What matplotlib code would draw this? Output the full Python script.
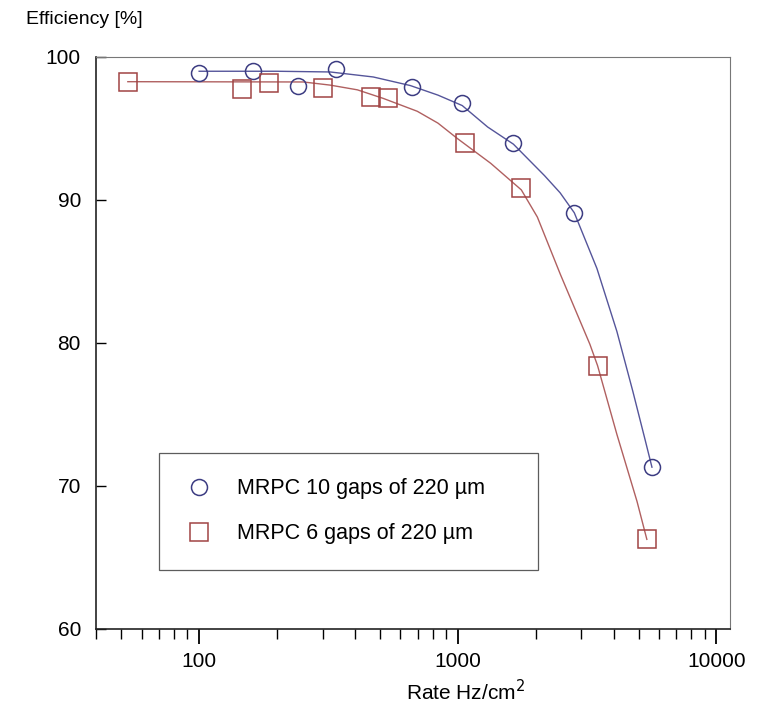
import matplotlib
matplotlib.use("Agg")
import matplotlib.pyplot as plt
from matplotlib.ticker import LogLocator, NullFormatter, FixedLocator

plt.rcParams['font.family'] = ['Liberation Sans', 'DejaVu Sans']

# measured points
rate_10 = [100, 162, 240, 337, 667, 1040, 1640, 2820, 5630]
eff_10 = [98.9, 99.0, 98.0, 99.15, 97.9, 96.8, 94.0, 89.1, 71.3]
rate_6 = [53, 146, 187, 300, 463, 538, 1070, 1760, 3470, 5380]
eff_6 = [98.25, 97.75, 98.2, 97.8, 97.2, 97.1, 94.0, 90.8, 78.4, 66.25]

# fitted curves
fit_rate_10 = [100, 200, 321, 471, 655, 838, 1040, 1304, 1640, 2163, 2485, 2820,
               3450, 4120, 4750, 5300, 5630]
fit_eff_10 = [99.0, 99.0, 98.95, 98.6, 98.0, 97.33, 96.6, 95.1, 93.9, 91.7, 90.5, 89.1,
              85.2, 80.8, 76.6, 73.2, 71.3]
fit_rate_6 = [53, 253, 321, 409, 515, 697, 838, 995, 1340, 1760, 2030, 2490,
              3240, 3470, 4120, 4930, 5380]
fit_eff_6 = [98.27, 98.25, 98.03, 97.7, 97.1, 96.2, 95.37, 94.3, 92.56, 90.7, 88.8, 84.8,
             79.9, 78.4, 73.6, 68.9, 66.25]

labels = ["MRPC 10 gaps of 220 \u00b5m", "MRPC 6 gaps of 220 \u00b5m"]

blue = "#3c3c82"
red = "#a04444"

fig = plt.figure(figsize=(7.76, 7.12), dpi=100)
ax = fig.add_axes([0.124, 0.117, 0.817, 0.803])

ax.plot(fit_rate_10, fit_eff_10, color="#55559a", lw=1.0)
ax.plot(fit_rate_6, fit_eff_6, color="#b06060", lw=1.0)
ax.plot(rate_10, eff_10, 'o', ms=11.5, mfc='none', mec=blue, mew=1.1, label=labels[0])
ax.plot(rate_6, eff_6, 's', ms=12.5, mfc='none', mec=red, mew=1.1, label=labels[1])

ax.set_xscale('log')
ax.set_xlim(40, 11300)
ax.set_ylim(60, 100)
ax.xaxis.set_major_locator(FixedLocator([100, 1000, 10000]))
ax.xaxis.set_minor_locator(LogLocator(base=10, subs=range(2, 10)))
ax.xaxis.set_minor_formatter(NullFormatter())
ax.set_xticklabels(["100", "1000", "10000"])
ax.set_yticks([60, 70, 80, 90, 100])

ax.tick_params(axis='x', which='major', direction='out', length=11, width=1.3, labelsize=15, pad=6)
ax.tick_params(axis='x', which='minor', direction='out', length=7, width=1.0)
ax.tick_params(axis='y', which='major', direction='in', length=7, width=1.0, labelsize=15, pad=11)

for side in ['top', 'right']:
    ax.spines[side].set_color('#777777')
for side in ['left', 'bottom']:
    ax.spines[side].set_color('#222222')
    ax.spines[side].set_linewidth(1.2)

leg = ax.legend(loc='upper left', bbox_to_anchor=(0.099, 0.101, 0.598, 0.207), mode='expand',
                frameon=True, fancybox=False, fontsize=15.5, handletextpad=1.05,
                labelspacing=1.1, borderpad=1.2, handlelength=1.36, borderaxespad=0)
leg.get_frame().set_edgecolor('#333333')
leg.get_frame().set_linewidth(0.9)

fig.text(0.033, 0.972, "Efficiency [%]", fontsize=14, ha='left', va='center')
fig.text(0.6, 0.028, "Rate Hz/cm$^2$", fontsize=15, ha='center', va='center')

fig.savefig("out.png", dpi=100)
